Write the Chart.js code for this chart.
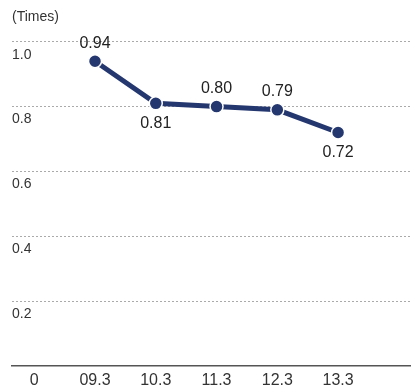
<!DOCTYPE html>
<html>
<head>
<meta charset="utf-8">
<script src="https://cdn.jsdelivr.net/npm/chart.js@4"></script>
<style>
  html, body { margin: 0; padding: 0; background: #fff; overflow: hidden; }
  canvas { display: block; }
</style>
</head>
<body>
<canvas id="chart" width="411" height="391"></canvas>
<script>
const periods = ['09.3', '10.3', '11.3', '12.3', '13.3'];
const ratio = [0.94, 0.81, 0.80, 0.79, 0.72];
const yTicks = [0, 0.2, 0.4, 0.6, 0.8, 1.0];
const labelSide = ['above', 'below', 'above', 'above', 'below'];

const navy = '#24376f';
const font = '"Liberation Sans", Arial, sans-serif';

// value labels above / below each point
const valueLabels = {
  id: 'valueLabels',
  afterDatasetsDraw(chart) {
    const ctx = chart.ctx;
    const meta = chart.getDatasetMeta(0);
    ctx.save();
    ctx.font = '16px ' + font;
    ctx.fillStyle = '#222';
    ctx.textAlign = 'center';
    ctx.textBaseline = 'middle';
    meta.data.forEach((pt, i) => {
      const dy = labelSide[i] === 'above' ? -18 : 20;
      ctx.fillText(ratio[i].toFixed(2), pt.x, pt.y + dy);
    });
    ctx.restore();
  }
};

new Chart(document.getElementById('chart'), {
  type: 'line',
  data: {
    datasets: [{
      data: ratio.map((v, i) => ({ x: i + 1, y: v })),
      borderColor: navy,
      borderWidth: 5,
      pointRadius: 6.5,
      pointBackgroundColor: navy,
      pointBorderColor: '#fff',
      pointBorderWidth: 1.5,
      tension: 0,
      clip: false
    }]
  },
  options: {
    responsive: false,
    animation: false,
    layout: { autoPadding: false, padding: { left: 12, right: 0, top: 3, bottom: -4 } },
    plugins: {
      legend: { display: false },
      tooltip: { enabled: false },
      title: {
        display: true,
        text: '(Times)',
        align: 'start',
        color: '#333',
        font: { family: font, size: 14, weight: 'normal' },
        padding: { top: 6, bottom: 16 }
      }
    },
    scales: {
      x: {
        type: 'linear',
        min: -0.366,
        max: 6.2,
        afterBuildTicks: s => { s.ticks = [0, 1, 2, 3, 4, 5].map(v => ({ value: v })); },
        ticks: {
          callback: v => v === 0 ? '0' : periods[v - 1],
          color: '#333',
          font: { family: font, size: 16 },
          padding: 5,
          maxRotation: 0,
          autoSkip: false
        },
        grid: { display: false, drawTicks: false },
        border: { display: true, color: '#555', width: 1.5 }
      },
      y: {
        min: 0,
        max: 1.0,
        afterBuildTicks: s => { s.ticks = yTicks.map(v => ({ value: v })); },
        ticks: {
          mirror: true,
          padding: 0,
          labelOffset: 13,
          callback: v => v === 0 ? '' : v.toFixed(1),
          color: '#333',
          font: { family: font, size: 14 }
        },
        grid: {
          drawTicks: false,
          color: c => c.tick && c.tick.value === 0 ? 'rgba(0,0,0,0)' : '#aaa',
          lineWidth: 1
        },
        border: { display: false, dash: [2, 2] }
      }
    }
  },
  plugins: [valueLabels]
});
</script>
</body>
</html>
